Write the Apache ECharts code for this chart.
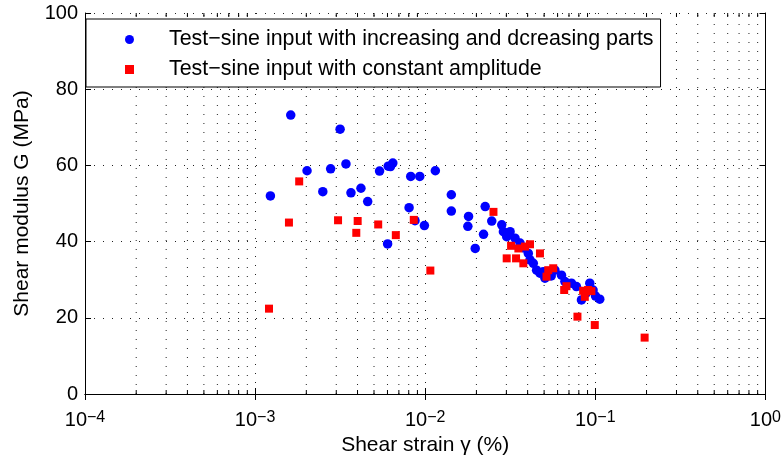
<!DOCTYPE html>
<html><head><meta charset="utf-8">
<script src="https://cdn.jsdelivr.net/npm/echarts@6/dist/echarts.min.js"></script>
<style>html,body{margin:0;padding:0;background:#fff}#c{width:784px;height:462px}</style>
</head><body><div id="c"></div>
<script>
// Shear strain (%) and shear modulus (MPa), series 1 (blue circles)
const blueStrain = [0.00123,0.00162,0.00202,0.00250,0.00278,0.00316,0.00342,0.00366,0.00419,0.00459,
  0.00539,0.00601,0.00606,0.00645,0.00625,0.00804,0.00822,0.00871,0.00929,0.00989,
  0.01147,0.01424,0.01424,0.01798,0.01781,0.01968,0.02202,0.02252,0.02461,0.02818,
  0.02882,0.03155,0.03013,0.03373,0.03609,0.04037,0.04131,0.04319,0.04516,0.04727,
  0.04943,0.05058,0.05786,0.06327,0.06624,0.07239,0.07745,0.08287,0.09279,0.09700,
  0.1062,0.08827,0.03826,0.05504,0.1003];
const blueModulus = [52.0,73.2,58.6,53.1,59.1,69.5,60.4,52.8,54.0,50.5,
  58.5,39.4,59.8,60.6,59.7,48.9,57.1,45.5,57.1,44.2,
  58.6,52.3,48.0,46.6,44.0,38.2,41.9,49.2,45.4,44.4,
  42.6,42.6,41.3,40.9,39.6,36.9,35.2,34.3,32.5,31.7,
  32.1,30.4,32.5,31.2,29.5,29.1,28.2,24.7,29.1,27.3,
  24.9,26.5,38.3,31.0,25.7];
// series 2 (red squares)
const redStrain = [0.001207,0.001581,0.001816,0.003073,0.003934,0.004008,0.005292,0.006718,0.008565,0.01072,
  0.02519,0.03013,0.03197,0.0342,0.03529,0.03775,0.03862,0.04131,0.04727,0.05287,
  0.05166,0.05656,0.06767,0.06561,0.08479,0.09067,0.08674,0.0948,0.07851,0.09927,0.1949];
const redModulus = [22.4,45.0,55.8,45.6,42.3,45.4,44.5,41.7,45.7,32.4,
  47.8,35.6,38.9,35.6,38.2,34.3,38.7,39.3,36.9,32.5,
  30.8,33.0,28.3,27.3,27.1,27.3,25.5,27.0,20.3,18.1,14.8];
const seriesNames = ['Test\u2212sine input with increasing and dcreasing parts','Test\u2212sine input with constant amplitude'];
const xTickExponents = ['\u22124','\u22123','\u22122','\u22121','0'];
const yRange = [0, 100];
const xDecades = [1e-4,1e-3,1e-2,1e-1];
const minorMultipliers = [2,3,4,5,6,7,8,9];

const xMinor = [];
xDecades.forEach(d=>minorMultipliers.forEach(k=>xMinor.push(+(d*k).toPrecision(3))));
const minorGridData = [];
xMinor.forEach(v=>{minorGridData.push([v,yRange[0]],[v,yRange[1]],[v,null]);});

const FONT = 'Liberation Sans';
const zip = (a,b)=>a.map((v,i)=>[v,b[i]]);
const dotted = {color:'#222', width:1, type:[1,8]};
const chart = echarts.init(document.getElementById('c'));
chart.setOption({
  animation:false,
  backgroundColor:'#fff',
  textStyle:{fontFamily:FONT},
  grid:{left:85,right:16,top:13,bottom:68},
  legend:{
    orient:'vertical', left:86, top:19,
    padding:[10,7,7,39], itemGap:9, itemWidth:9, itemHeight:9,
    backgroundColor:'#fff', borderColor:'#000', borderWidth:1,
    textStyle:{fontFamily:FONT, fontSize:21.4, color:'#000', padding:[0,0,0,30], lineHeight:21},
    data:[{name:seriesNames[0], icon:'circle'},{name:seriesNames[1], icon:'rect'}]
  },
  xAxis:[{
    type:'log', logBase:10, min:1e-4, max:1,
    name:'Shear strain \u03b3 (%)', nameLocation:'middle', nameGap:37,
    nameTextStyle:{fontFamily:FONT,fontSize:21,color:'#000'},
    axisLine:{lineStyle:{color:'#000',width:1}},
    axisTick:{inside:true,length:6,lineStyle:{color:'#000'}},
    axisLabel:{margin:16,color:'#000',fontFamily:FONT,
      formatter:v=>{const e=Math.round(Math.log10(v)); return '{b|10}{s|'+xTickExponents[e+4]+'}';},
      rich:{b:{fontSize:20,fontFamily:FONT,color:'#000',lineHeight:20,verticalAlign:'bottom'},
            s:{fontSize:16,fontFamily:FONT,color:'#000',lineHeight:4,verticalAlign:'top'}}},
    splitLine:{show:true,lineStyle:dotted}
  },{
    type:'log', logBase:10, min:1e-4, max:1, position:'top',
    axisLine:{lineStyle:{color:'#000',width:1}},
    axisTick:{inside:true,length:6,lineStyle:{color:'#000'}},
    axisLabel:{show:false}, splitLine:{show:false}
  }],
  yAxis:[{
    type:'value', min:yRange[0], max:yRange[1], interval:20,
    name:'Shear modulus G (MPa)', nameLocation:'middle', nameGap:52,
    nameTextStyle:{fontFamily:FONT,fontSize:21,color:'#000'},
    axisLine:{show:true,lineStyle:{color:'#000',width:1}},
    axisTick:{show:true,inside:true,length:6,lineStyle:{color:'#000'}},
    axisLabel:{margin:7,color:'#000',fontFamily:FONT,fontSize:20},
    splitLine:{show:true,lineStyle:dotted}
  },{
    type:'value', min:yRange[0], max:yRange[1], interval:20, position:'right',
    axisLine:{show:true,lineStyle:{color:'#000',width:1}},
    axisTick:{show:true,inside:true,length:6,lineStyle:{color:'#000'}},
    axisLabel:{show:false}, splitLine:{show:false}
  }],
  series:[
    {type:'line', name:'minorGrid', data:minorGridData, showSymbol:false, symbol:'none',
     connectNulls:false, silent:true, lineStyle:dotted, z:1},
    {type:'scatter', name:'minorTicksBottom', silent:true, symbol:'rect', symbolSize:[1,4], symbolOffset:[0,-2],
     itemStyle:{color:'#000',opacity:1}, data:xMinor.map(v=>[v,yRange[0]]), z:5},
    {type:'scatter', name:'minorTicksTop', silent:true, symbol:'rect', symbolSize:[1,4], symbolOffset:[0,2],
     itemStyle:{color:'#000',opacity:1}, data:xMinor.map(v=>[v,yRange[1]]), z:5},
    {type:'scatter', name:seriesNames[0], symbol:'circle', symbolSize:9.5,
     itemStyle:{color:'#0000ff',opacity:1}, data:zip(blueStrain,blueModulus), z:3},
    {type:'scatter', name:seriesNames[1], symbol:'rect', symbolSize:8,
     itemStyle:{color:'#ff0000',opacity:1}, data:zip(redStrain,redModulus), z:4}
  ]
});
</script></body></html>
